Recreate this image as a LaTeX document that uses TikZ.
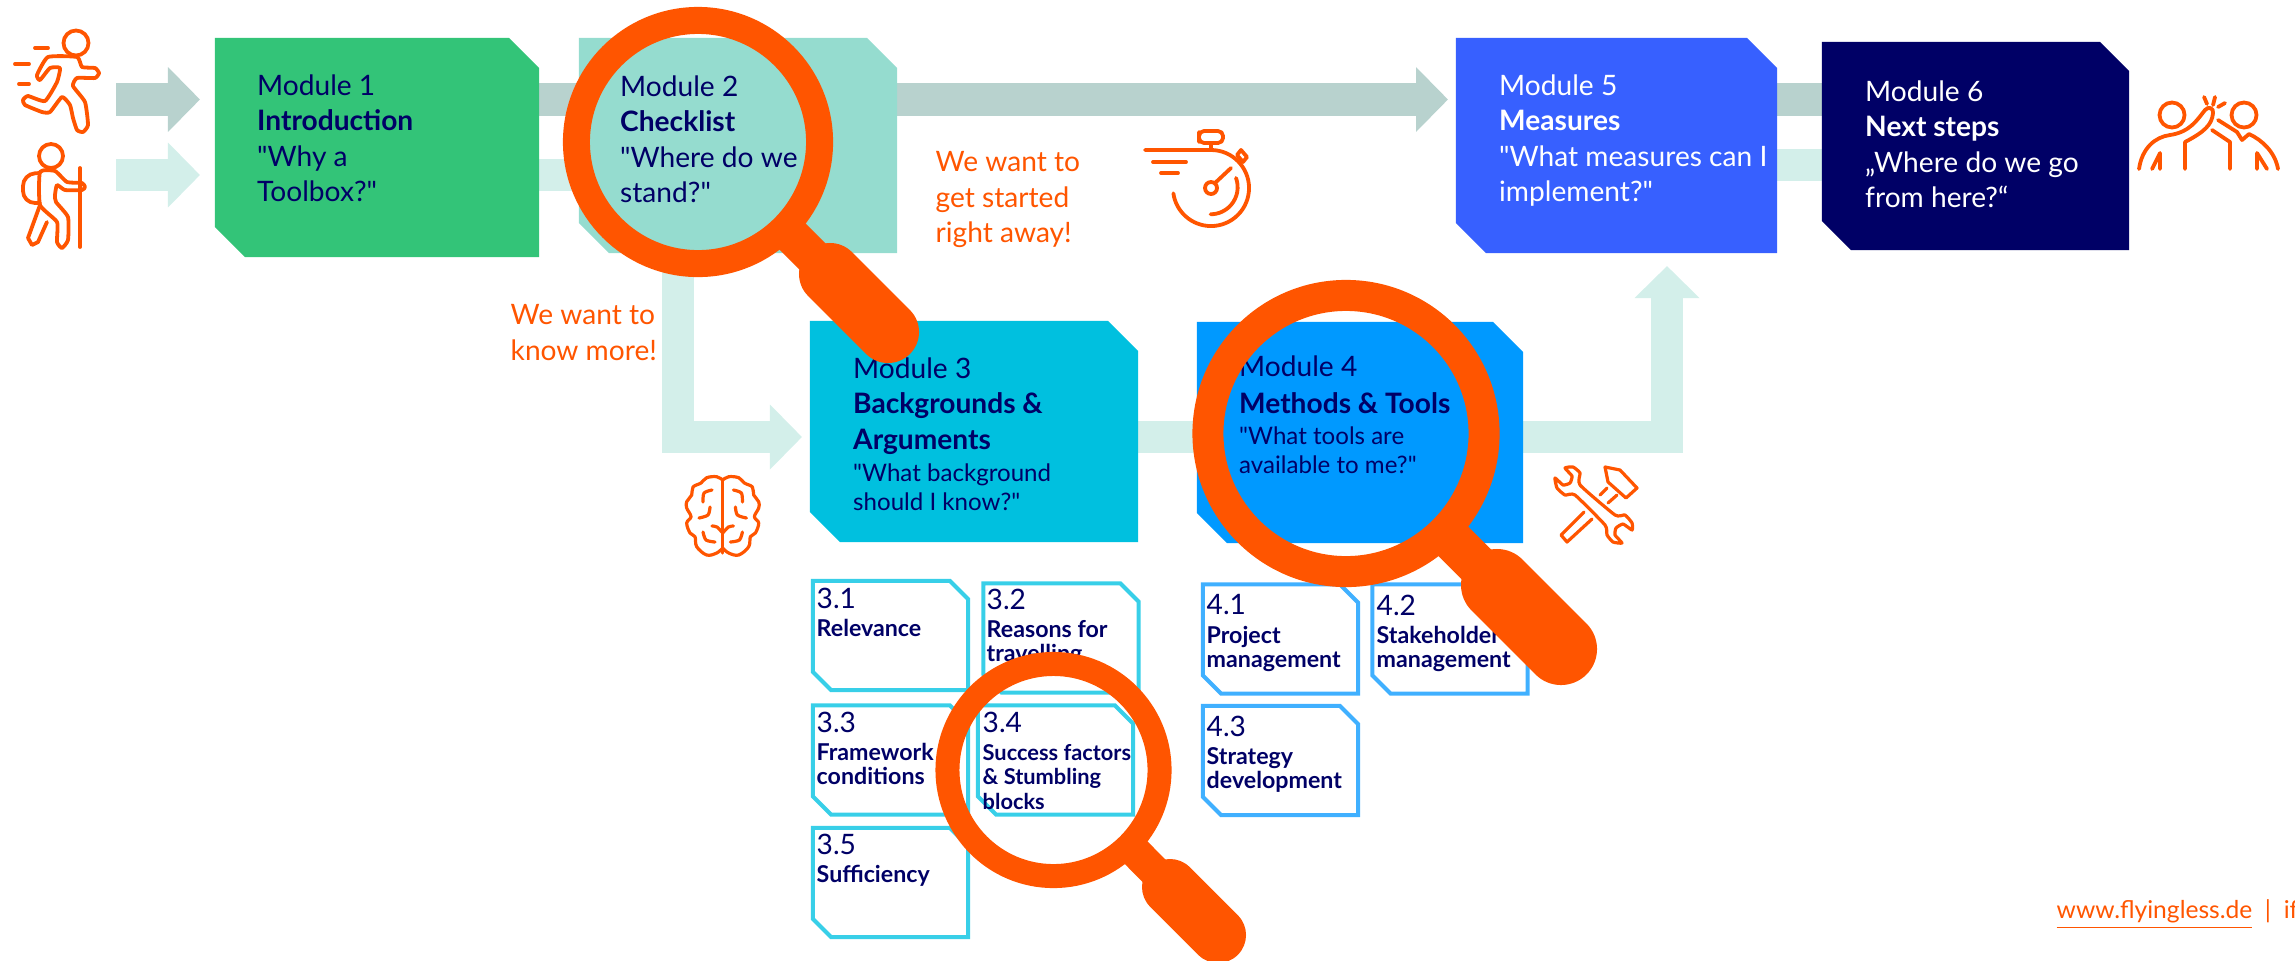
\documentclass[tikz,border=0pt]{standalone}
\usepackage{fontspec}
\setmainfont{Lato}[Ligatures=TeXOff]
\usetikzlibrary{arrows.meta}
\definecolor{flyorange}{HTML}{FF5500}
\definecolor{flynavy}{HTML}{000066}
\definecolor{flowgrey}{HTML}{B8D2CE}
\definecolor{flowpale}{HTML}{D3EFEA}
\definecolor{modgreen}{HTML}{33C478}
\definecolor{modmint}{HTML}{95DCCF}
\definecolor{modcyan}{HTML}{00C0DF}
\definecolor{modsky}{HTML}{0099FF}
\definecolor{modblue}{HTML}{3760FF}
\definecolor{subcyan}{HTML}{38CFE8}
\definecolor{subsky}{HTML}{40B0FF}
\tikzset{
  modulebox/.style={rectangle,inner sep=0pt,outer sep=0pt},
  subbox/.style={rectangle,inner sep=0pt,outer sep=0pt,minimum width=15.5mm,minimum height=10.9mm},
  suboutline/.style={line width=0.4mm,draw=#1},
  modtext/.style={anchor=north west,inner sep=0pt,align=left,text=flynavy,font=\fontsize{8}{10.1}\selectfont},
  subtext/.style={anchor=north west,inner sep=0pt,align=left,text=flynavy,font=\fontsize{6.6}{7}\selectfont},
  calltext/.style={anchor=north west,inner sep=0pt,align=left,text=flyorange,font=\fontsize{8}{10.1}\selectfont},
  greylink/.style={draw=flowgrey,line width=3.2mm},
  palelink/.style={draw=flowpale,line width=3.2mm},
  blockhead/.style={-{Triangle[length=3.2mm,width=6.3mm]}},
  icon/.style={draw=flyorange,line width=0.38mm,line cap=round,line join=round},
  thinicon/.style={icon,line width=0.32mm},
  magring/.style={draw=flyorange},
  maggrip/.style={draw=flyorange,line cap=round},
}
\newcommand{\cutbox}[3]{\path[#3] (#1.north west) -- ([xshift=-#2]#1.north east) -- ([yshift=-#2]#1.north east) -- (#1.south east) -- ([xshift=#2]#1.south west) -- ([yshift=#2]#1.south west) -- cycle;}
\newcommand{\subnum}[1]{{\fontsize{8}{8}\selectfont #1}}
\newcommand{\modsmall}[1]{{\fontsize{6.85}{8.5}\selectfont #1}}
\begin{document}
\begin{tikzpicture}[x=0.01cm,y=-0.01cm]
\path[clip,use as bounding box] (0,0) rectangle (2295,960);
\coordinate (runin) at (116,99.5);
\coordinate (runtip) at (200,99.5);
\coordinate (hikein) at (116,175);
\coordinate (hiketip) at (200,175);
\coordinate (mod5tip) at (1448,99.5);
\coordinate (turn3) at (678,437);
\coordinate (mod3tip) at (802,437);
\coordinate (turn5) at (1667,437);
\coordinate (mod5up) at (1667,266);
\coordinate (pale56) at (1800,164.5);
\node[modulebox,minimum width=32.4mm,minimum height=21.9mm] (mod1) at (377,147.5) {};
\node[modulebox,minimum width=31.8mm,minimum height=21.5mm] (mod2) at (738,145.5) {};
\node[modulebox,minimum width=32.8mm,minimum height=22.1mm] (mod3) at (974,431.5) {};
\node[modulebox,minimum width=32.6mm,minimum height=22.1mm] (mod4) at (1360,432.5) {};
\node[modulebox,minimum width=32.1mm,minimum height=21.5mm] (mod5) at (1616.5,145.5) {};
\node[modulebox,minimum width=30.7mm,minimum height=20.8mm] (mod6) at (1975.5,146) {};
\draw[greylink,blockhead] (runin) -- (runtip);
\draw[palelink,blockhead] (hikein) -- (hiketip);
\draw[greylink] (mod1.east |- runin) -- (mod2.west |- runin);
\draw[palelink] (mod1.east |- hikein) -- (mod2.west |- hikein);
\draw[greylink,blockhead] (mod2.east |- runin) -- (mod5tip);
\draw[palelink,blockhead] (mod2.south -| turn3) -- (turn3) -- (mod3tip);
\draw[palelink] (mod3.east |- turn3) -- (mod4.west |- turn3);
\draw[palelink,blockhead] (mod4.east |- turn3) -- (turn5) -- (mod5up);
\draw[greylink] (mod5.east |- runin) -- (mod6.west |- runin);
\draw[palelink] (mod5.east |- pale56) -- (mod6.west |- pale56);
\cutbox{mod1}{3mm}{fill=modgreen}
\cutbox{mod2}{3mm}{fill=modmint}
\cutbox{mod3}{3mm}{fill=modcyan}
\cutbox{mod4}{3mm}{fill=modsky}
\cutbox{mod5}{3mm}{fill=modblue}
\cutbox{mod6}{2.9mm}{fill=flynavy}
\node[modtext] (mod1text) at (256.5,74) {Module 1\\\textbf{Introduction}\\"Why a\\Toolbox?"};
\node[modtext] (mod2text) at (619.5,75) {Module 2\\\textbf{Checklist}\\"Where do we\\stand?"};
\node[modtext] (mod3text) at (852.5,357) {Module 3\\\textbf{Backgrounds \&}\\\textbf{Arguments}\\[-1pt]\modsmall{"What background}\\[-1.85pt]\modsmall{should I know?"}};
\node[modtext] (mod4text) at (1238.5,355) {Module 4\\[0.4pt]\textbf{Methods \& Tools}\\[-1.3pt]\modsmall{"What tools are}\\[-1.85pt]\modsmall{available to me?"}};
\node[modtext,text=white] (mod5text) at (1498.5,74) {Module 5\\\textbf{Measures}\\"What measures can I\\implement?"};
\node[modtext,text=white] (mod6text) at (1864.5,80) {Module 6\\\textbf{Next steps}\\„Where do we go\\from here?“};
\node[calltext] (morecall) at (510,304) {We want to\\know more!};
\node[calltext] (startcall) at (935,151) {We want to\\get started\\right away!};
\node[subbox] (sub31) at (890.5,635.5) {};
\node[subbox] (sub32) at (1061,638) {};
\node[subbox] (sub33) at (890.5,760) {};
\node[subbox] (sub34) at (1055.5,760) {};
\node[subbox] (sub35) at (890.5,882.5) {};
\node[subbox] (sub41) at (1280.5,639) {};
\node[subbox] (sub42) at (1450,639) {};
\node[subbox] (sub43) at (1280.5,760.5) {};
\cutbox{sub31}{1.8mm}{suboutline=subcyan}
\cutbox{sub32}{1.8mm}{suboutline=subcyan}
\cutbox{sub33}{1.8mm}{suboutline=subcyan}
\cutbox{sub34}{1.8mm}{suboutline=subcyan}
\cutbox{sub35}{1.8mm}{suboutline=subcyan}
\cutbox{sub41}{1.8mm}{suboutline=subsky}
\cutbox{sub42}{1.8mm}{suboutline=subsky}
\cutbox{sub43}{1.8mm}{suboutline=subsky}
\node[subtext] (sub31text) at (816,587) {\subnum{3.1}\\[1pt]\textbf{Relevance}};
\node[subtext] (sub32text) at (986,588) {\subnum{3.2}\\[1pt]\textbf{Reasons for}\\\textbf{travelling}};
\node[subtext] (sub33text) at (816,711) {\subnum{3.3}\\[1pt]\textbf{Framework}\\\textbf{conditions}};
\node[subtext,font=\fontsize{6.2}{7}\selectfont] (sub34text) at (982,711) {\subnum{3.4}\\[1pt]\textbf{Success factors}\\\textbf{\& Stumbling}\\\textbf{blocks}};
\node[subtext] (sub35text) at (816,833) {\subnum{3.5}\\[1pt]\textbf{Sufficiency}};
\node[subtext] (sub41text) at (1206,594) {\subnum{4.1}\\[1pt]\textbf{Project}\\\textbf{management}};
\node[subtext] (sub42text) at (1376,594) {\subnum{4.2}\\[1pt]\textbf{Stakeholder}\\\textbf{management}};
\node[subtext] (sub43text) at (1206,715) {\subnum{4.3}\\[1pt]\textbf{Strategy}\\\textbf{development}};
\node[anchor=base west,inner sep=0pt,text=flyorange,font=\fontsize{7}{8}\selectfont] (footer) at (2056,918) {\underline{www.flyingless.de}\ \ |\ \ if};
\draw[icon] (76,43) circle (1.25mm);
\draw[icon] (35,48) -- (48,48);
\draw[icon] (15,64) -- (29,64);
\draw[icon] (19,84) -- (29,84);
\draw[icon] plot[smooth cycle,tension=0.3] coordinates {(48,57) (77,57) (82,67) (95,68) (99,73) (95,78) (77,78) (73,86) (85,102) (88,125) (83,132) (77,130) (73,118) (70,105) (62,97) (50,112) (42,112) (25,105) (23,100) (28,96) (45,101) (57,82) (60,68) (50,68) (40,80) (37,75)};
\draw[icon] (51,156) circle (1.2mm);
\draw[icon] (80,168) -- (80,247);
\draw[icon] plot[smooth cycle,tension=0.3] coordinates {(40,172) (55,171) (67,182) (82,183) (85,187) (82,190) (65,190) (57,185) (55,195) (56,202) (68,217) (68,240) (62,248) (57,242) (57,222) (40,205)};
\draw[icon] (40,205) -- (28,238) -- (32,245) -- (38,242) -- (47,222);
\draw[icon,rounded corners=1.2mm] (40,173) -- (23,174) -- (23,203) -- (40,203);
\draw[icon] (1199,137) [rounded corners=0.5mm] -- (1199,131) -- (1223,131) -- (1223,143) -- (1199,143) -- cycle;
\draw[icon] (1211,143) -- (1211,150);
\draw[icon] (1145,150) -- (1211,150) arc[start angle=90,end angle=-172,radius=3.8mm];
\draw[icon] (1153,162) -- (1186,162);
\draw[icon] (1161,173) -- (1178,173);
\draw[icon] (1211,188) circle (0.6mm);
\draw[icon] (1215,183) -- (1231,168);
\draw[icon] (1236,178) arc[start angle=20,end angle=-90,radius=2.7mm];
\draw[icon] (1237,155) -- (1241,150) -- (1247,157) -- (1243,162) -- cycle;
\draw[icon] (2172,115) circle (1.25mm);
\draw[icon] (2244,115) circle (1.25mm);
\draw[icon] (2204,97) -- (2207,104);
\draw[icon] (2215,97) -- (2213,105);
\draw[icon] (2225,103) -- (2218,107);
\draw[icon] (2139,169) .. controls (2142,148) and (2155,137) .. (2170,135) .. controls (2190,132) and (2197,120) .. (2205,110) .. controls (2208,106) and (2214,108) .. (2213,113) .. controls (2212,125) and (2204,132) .. (2185,142) -- (2185,169);
\draw[icon] (2152,169) -- (2160,153) -- (2160,169);
\draw[icon] (2218,120) -- (2237,132) -- (2242,140) -- (2249,134) .. controls (2262,140) and (2275,152) .. (2278,169);
\draw[icon] (2212,130) -- (2230,142) -- (2230,169);
\draw[icon] (2257,169) -- (2257,153) -- (2267,169);
\draw[thinicon] plot[smooth cycle,tension=0.3] coordinates {(1565,468) (1573,467) (1580,473) (1580,485) (1615,515) (1625,515) (1632,523) (1632,530) (1623,524) (1616,528) (1615,535) (1622,543) (1613,542) (1607,535) (1605,525) (1575,495) (1565,495) (1557,488) (1555,478) (1563,485) (1570,483) (1572,476)};
\draw[thinicon] (1605,467) -- (1620,470) -- (1637,488) -- (1626,498) -- (1608,482) -- cycle;
\draw[thinicon] (1607,488) -- (1600,495);
\draw[thinicon] (1617,495) -- (1608,503);
\draw[thinicon] (1584,512) -- (1561,535) -- (1567,542) -- (1592,519);
\draw[thinicon] (722.7,480) -- (722.7,553);
\foreach \side in {1,-1} {
\begin{scope}[shift={(722.7,0)},xscale=\side]
\draw[thinicon] plot[smooth,tension=0.6] coordinates {(0,480) (-6,476.7) (-16,477.7) (-21.7,483) (-29.7,487) (-31,495) (-36,501.7) (-36,508) (-31.7,516.7) (-36,523) (-32.7,533) (-27.7,536.7) (-26,546.7) (-16,555) (-6,553) (0,548)};
\draw[thinicon] plot[smooth] coordinates {(-10.7,490) (-18.7,493) (-19.7,502)};
\draw[thinicon] plot[smooth] coordinates {(-12.7,507) (-14.7,515) (-23.7,518)};
\draw[thinicon] plot[smooth] coordinates {(-10.7,526) (-5.7,527) (0,533)};
\draw[thinicon] plot[smooth] coordinates {(-19.7,532) (-16.7,540) (-7.7,542)};
\end{scope}
}
\draw[magring,line width=2.7mm] (698,142) circle (12.15mm);
\draw[magring,line width=3.7mm] (785,229) -- (835,279);
\draw[maggrip,line width=6.2mm] (830,274) -- (888,332);
\draw[magring,line width=3.1mm] (1346,433.5) circle (13.8mm);
\draw[magring,line width=4.2mm] (1443,531) -- (1500,588);
\draw[maggrip,line width=7.2mm] (1497,585) -- (1561,649);
\draw[magring,line width=2.4mm] (1053.5,770) circle (10.6mm);
\draw[magring,line width=3.2mm] (1130,846.5) -- (1175,892);
\draw[maggrip,line width=5.6mm] (1170,887) -- (1218,935);
\end{tikzpicture}
\end{document}
